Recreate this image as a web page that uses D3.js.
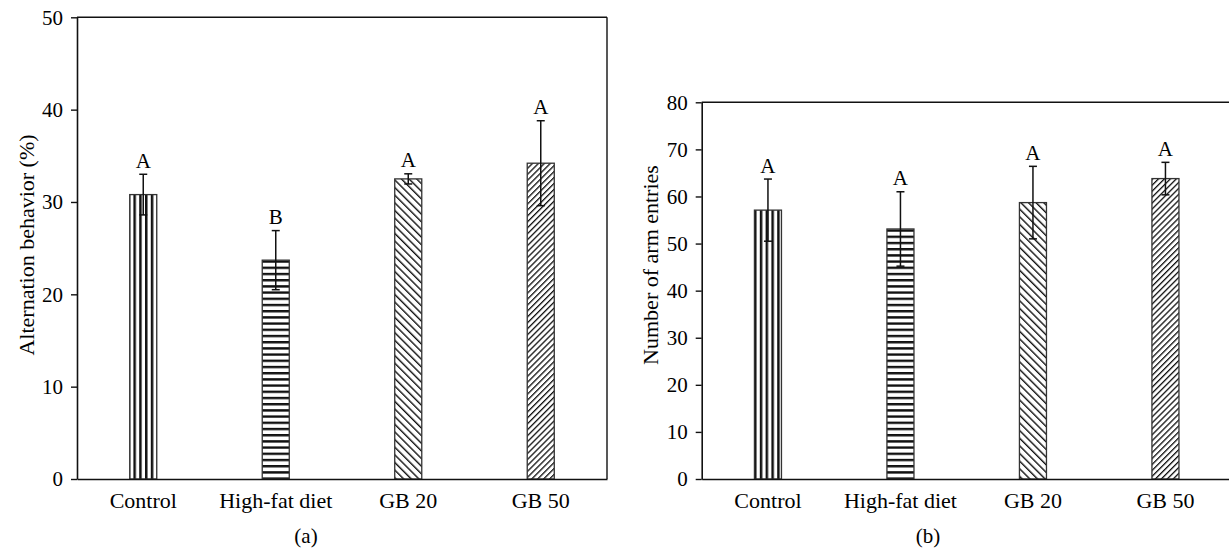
<!DOCTYPE html>
<html>
<head>
<meta charset="utf-8">
<script src="https://cdn.jsdelivr.net/npm/d3@7"></script>
<style>
  body { margin: 0; background: #fff; }
  svg text { font-family: "Liberation Serif", "DejaVu Serif", serif; fill: #000; }
</style>
</head>
<body>
<svg id="chart" width="1229" height="552"></svg>
<script>
// groups on the x axis
const categories = ["Control", "High-fat diet", "GB 20", "GB 50"];

// panel (a) alternation behavior (%)
const altMean = [30.8, 23.7, 32.5, 34.2];
const altSD = [2.2, 3.2, 0.55, 4.6];
const altLetters = ["A", "B", "A", "A"];
const altTicks = [0, 10, 20, 30, 40, 50];

// panel (b) number of arm entries
const armMean = [57.1, 53.1, 58.7, 63.8];
const armSD = [6.6, 7.9, 7.7, 3.45];
const armLetters = ["A", "A", "A", "A"];
const armTicks = [0, 10, 20, 30, 40, 50, 60, 70, 80];

const svg = d3.select("#chart");
const defs = svg.append("defs");

// hatch patterns, one per group
function stripePattern(id, period, w, angle) {
    const p = defs.append("pattern")
        .attr("id", id)
        .attr("patternUnits", "userSpaceOnUse")
        .attr("width", period)
        .attr("height", 10)
        .attr("patternTransform", "rotate(" + angle + ")");
    p.append("rect").attr("width", period).attr("height", 10).attr("fill", "#fff");
    p.append("rect").attr("x", 0).attr("width", w).attr("height", 10).attr("fill", "#111");
}
stripePattern("pat0", 5.8, 2.5, 0);     // vertical
stripePattern("pat1", 6.2, 2.4, 90);    // horizontal
stripePattern("pat2", 5.4, 1.4, -45);   // "\"
stripePattern("pat3", 4.2, 1.3, 45);    // "/"

function drawPanel(cfg) {
    const g = svg.append("g");

    const x = d3.scaleBand()
        .domain(categories)
        .range([cfg.left, cfg.right])
        .paddingInner(0.796)
        .paddingOuter(0.398);

    const y = d3.scaleLinear()
        .domain([0, cfg.max])
        .range([cfg.bottom, cfg.top]);

    // frame: top and right
    g.append("line")
        .attr("x1", cfg.left).attr("x2", cfg.right)
        .attr("y1", cfg.top).attr("y2", cfg.top)
        .attr("stroke", "#111").attr("stroke-width", 1.4);
    g.append("line")
        .attr("x1", cfg.right).attr("x2", cfg.right)
        .attr("y1", cfg.top).attr("y2", cfg.bottom)
        .attr("stroke", "#111").attr("stroke-width", 1.4);

    const data = categories.map((c, i) => ({
        cat: c, i: i, mean: cfg.mean[i], sd: cfg.sd[i], letter: cfg.letters[i]
    }));

    // bars
    g.selectAll(".bar")
        .data(data)
        .enter()
        .append("rect")
        .attr("class", "bar")
        .attr("x", d => x(d.cat))
        .attr("width", x.bandwidth())
        .attr("y", d => y(d.mean))
        .attr("height", d => y(0) - y(d.mean))
        .attr("fill", d => "url(#pat" + d.i + ")")
        .attr("stroke", "#333")
        .attr("stroke-width", 1.3);

    // error bars
    const eb = g.selectAll(".err")
        .data(data)
        .enter()
        .append("g")
        .attr("class", "err")
        .attr("transform", d => "translate(" + (x(d.cat) + x.bandwidth() / 2) + ",0)");
    eb.append("line")
        .attr("y1", d => y(d.mean - d.sd))
        .attr("y2", d => y(d.mean + d.sd))
        .attr("stroke", "#111").attr("stroke-width", 1.5);
    eb.append("line")
        .attr("x1", -4).attr("x2", 4)
        .attr("y1", d => y(d.mean + d.sd))
        .attr("y2", d => y(d.mean + d.sd))
        .attr("stroke", "#111").attr("stroke-width", 1.5);
    eb.append("line")
        .attr("x1", -4).attr("x2", 4)
        .attr("y1", d => y(d.mean - d.sd))
        .attr("y2", d => y(d.mean - d.sd))
        .attr("stroke", "#111").attr("stroke-width", 1.5);
    eb.append("text")
        .attr("y", d => y(d.mean + d.sd) - 6.5)
        .attr("text-anchor", "middle")
        .style("font-size", "21px")
        .text(d => d.letter);

    // y axis
    const yAxis = g.append("g")
        .attr("transform", "translate(" + cfg.left + ",0)")
        .call(d3.axisLeft(y).tickValues(cfg.ticks).tickSize(6).tickSizeOuter(0).tickPadding(8));
    yAxis.select(".domain").attr("stroke", "#111").attr("stroke-width", 1.6);
    yAxis.selectAll(".tick line").attr("stroke", "#111").attr("stroke-width", 1.4);
    yAxis.selectAll(".tick text")
        .style("font-family", "Liberation Serif, serif")
        .style("font-size", "21px")
        .attr("fill", "#000");

    // x axis (baseline only, no ticks)
    const xAxis = g.append("g")
        .attr("transform", "translate(0," + cfg.bottom + ")")
        .call(d3.axisBottom(x).tickSize(0).tickPadding(13));
    xAxis.select(".domain").attr("stroke", "#111").attr("stroke-width", 1.6);
    xAxis.selectAll(".tick text")
        .style("font-family", "Liberation Serif, serif")
        .style("font-size", "22px")
        .attr("fill", "#000");

    // y label
    g.append("text")
        .attr("transform", "translate(" + cfg.labelX + "," + cfg.labelY + ") rotate(-90)")
        .attr("text-anchor", "middle")
        .style("font-size", "22px")
        .text(cfg.label);

    // panel tag
    g.append("text")
        .attr("x", cfg.tagX)
        .attr("y", 543)
        .attr("text-anchor", "middle")
        .style("font-size", "21px")
        .text(cfg.tag);
}

drawPanel({
    left: 77, right: 607, top: 17.3, bottom: 479, max: 50,
    mean: altMean, sd: altSD, letters: altLetters, ticks: altTicks,
    label: "Alternation behavior (%)", labelX: 34, labelY: 245,
    tag: "(a)", tagX: 306
});

drawPanel({
    left: 701.7, right: 1231.7, top: 102.3, bottom: 479, max: 80,
    mean: armMean, sd: armSD, letters: armLetters, ticks: armTicks,
    label: "Number of arm entries", labelX: 658, labelY: 265,
    tag: "(b)", tagX: 928
});
</script>
</body>
</html>
